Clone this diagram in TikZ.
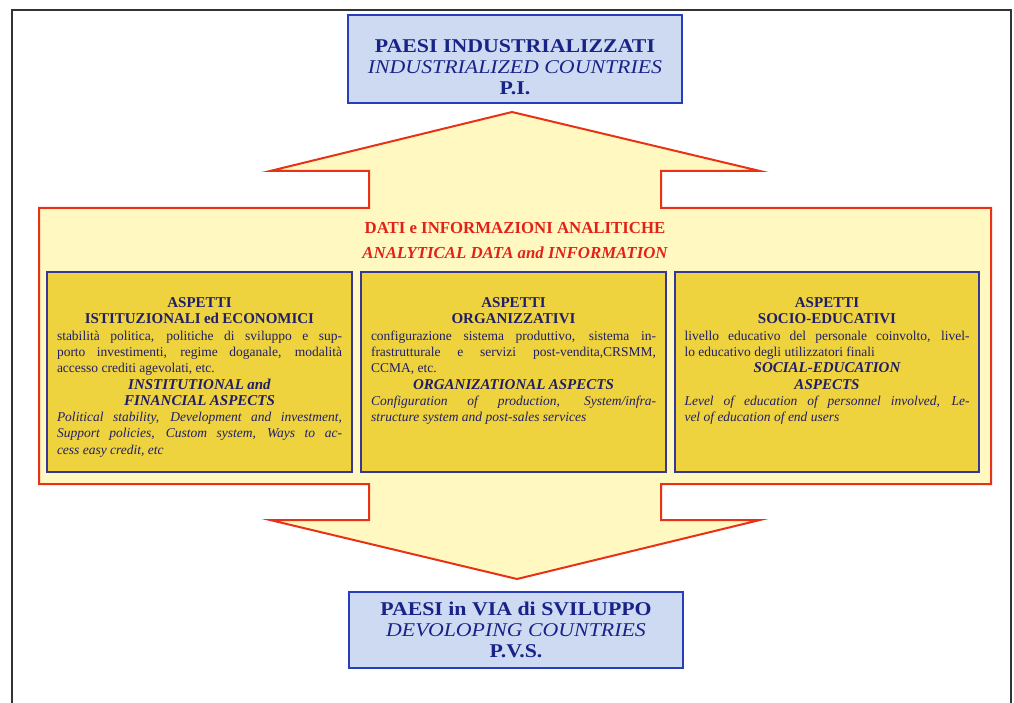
\documentclass[tikz,border=0pt]{standalone}
\usepackage{fontspec}
\setmainfont{Liberation Serif}
\newfontfamily\wideserif[FakeStretch=1.12]{Liberation Serif}
\usetikzlibrary{positioning}

\definecolor{framered}{RGB}{232,50,22}
\definecolor{arrowfill}{RGB}{255,248,192}
\definecolor{panelfill}{RGB}{238,211,62}
\definecolor{panelline}{RGB}{55,55,150}
\definecolor{countryfill}{RGB}{206,218,242}
\definecolor{countryline}{RGB}{40,60,190}
\definecolor{countryink}{RGB}{25,35,135}
\definecolor{panelink}{RGB}{32,30,105}
\definecolor{titlered}{RGB}{226,34,24}

\setlength{\parindent}{0pt}
\hbadness=10000

\newcommand{\asphead}[1]{{\centering\fontsize{15}{16.3}\selectfont\bfseries #1\par}}
\newcommand{\aspbody}[1]{{\fontsize{13.5}{16.3}\selectfont
  \spaceskip=.25em plus 2em minus .05em\xspaceskip=\spaceskip #1\par}}
\newcommand{\fullline}[1]{\hbox to 285pt{#1}}

\begin{document}
\begin{tikzpicture}[x=1pt,y=-1pt,
  country/.style={draw=countryline,line width=1.6pt,fill=countryfill,
    minimum width=334pt,minimum height=88pt},
  countrytext/.style={align=center,text=countryink,inner sep=0pt,
    font=\wideserif\fontsize{19.5}{20.8}\selectfont},
  panel/.style={draw=panelline,line width=1.1pt,fill=panelfill,
    minimum width=305pt,minimum height=200pt},
  paneltext/.style={anchor=north,text width=285pt,inner sep=0pt,text=panelink},
  redtitle/.style={text=titlered,font=\fontsize{16.8}{18}\selectfont\bfseries}]
  \useasboundingbox (0,0) rectangle (1014,703);

  % page frame
  \draw[line width=1.2pt,black!80] (12,703) -- (12,10) -- (1011,10) -- (1011,703);

  % double arrow with the data block
  \draw[framered,line width=2pt,fill=arrowfill,line join=miter]
    (512,112) -- (760,171) -- (661,171) -- (661,208) -- (991,208) -- (991,484)
    -- (661,484) -- (661,520) -- (760,520) -- (517,579) -- (270,520) -- (369,520)
    -- (369,484) -- (39,484) -- (39,208) -- (369,208) -- (369,171) -- (270,171) -- cycle;

  \node[country] (pi) at (515,59) {};
  \node[countrytext] (pitxt) at ([yshift=-8pt]pi.center)
    {{\bfseries PAESI INDUSTRIALIZZATI}\\{\itshape INDUSTRIALIZED COUNTRIES}\\{\bfseries P.I.}};
  \node[country,minimum height=76pt] (pvs) at (516,630) {};
  \node[countrytext] (pvstxt) at (pvs.center)
    {{\bfseries PAESI in VIA di SVILUPPO}\\{\itshape DEVOLOPING COUNTRIES}\\{\bfseries P.V.S.}};

  \node[redtitle] (dati) at (515,228) {DATI e INFORMAZIONI ANALITICHE};
  \node[redtitle,font=\fontsize{16.8}{18}\selectfont\bfseries\itshape] (analytical) at (515,253)
    {ANALYTICAL DATA and INFORMATION};

  % three panels
  \node[panel] (istituzionali) at (199.5,372) {};
  \node[panel] (organizzativi) at (513.5,372) {};
  \node[panel,minimum width=304pt] (socio) at (827,372) {};

  \node[paneltext] (istituzionalitxt) at ([yshift=-26pt]istituzionali.north) {%
    \asphead{ASPETTI\\ ISTITUZIONALI ed ECONOMICI}
    \aspbody{\fullline{stabilità politica, politiche di sviluppo e sup-}
      \fullline{porto investimenti, regime doganale, modalità}
      accesso crediti agevolati, etc.}
    \asphead{\itshape INSTITUTIONAL and\\ FINANCIAL ASPECTS}
    \aspbody{\itshape\fullline{Political stability, Development and investment,}
      \fullline{Support policies, Custom system, Ways to ac-}
      cess easy credit, etc}};

  \node[paneltext] (organizzativitxt) at ([yshift=-26pt]organizzativi.north) {%
    \asphead{ASPETTI\\ ORGANIZZATIVI}
    \aspbody{\fullline{configurazione sistema produttivo, sistema in-}
      \fullline{frastrutturale e servizi post-vendita,CRSMM,}
      CCMA, etc.}
    \asphead{\itshape ORGANIZATIONAL ASPECTS}
    \aspbody{\itshape\fullline{Configuration of production, System/infra-}
      structure system and post-sales services}};

  \node[paneltext] (sociotxt) at ([yshift=-26pt]socio.north) {%
    \asphead{ASPETTI\\ SOCIO-EDUCATIVI}
    \aspbody{\fullline{livello educativo del personale coinvolto, livel-}
      lo educativo degli utilizzatori finali}
    \asphead{\itshape SOCIAL-EDUCATION\\ ASPECTS}
    \aspbody{\itshape\fullline{Level of education of personnel involved, Le-}
      vel of education of end users}};
\end{tikzpicture}
\end{document}
